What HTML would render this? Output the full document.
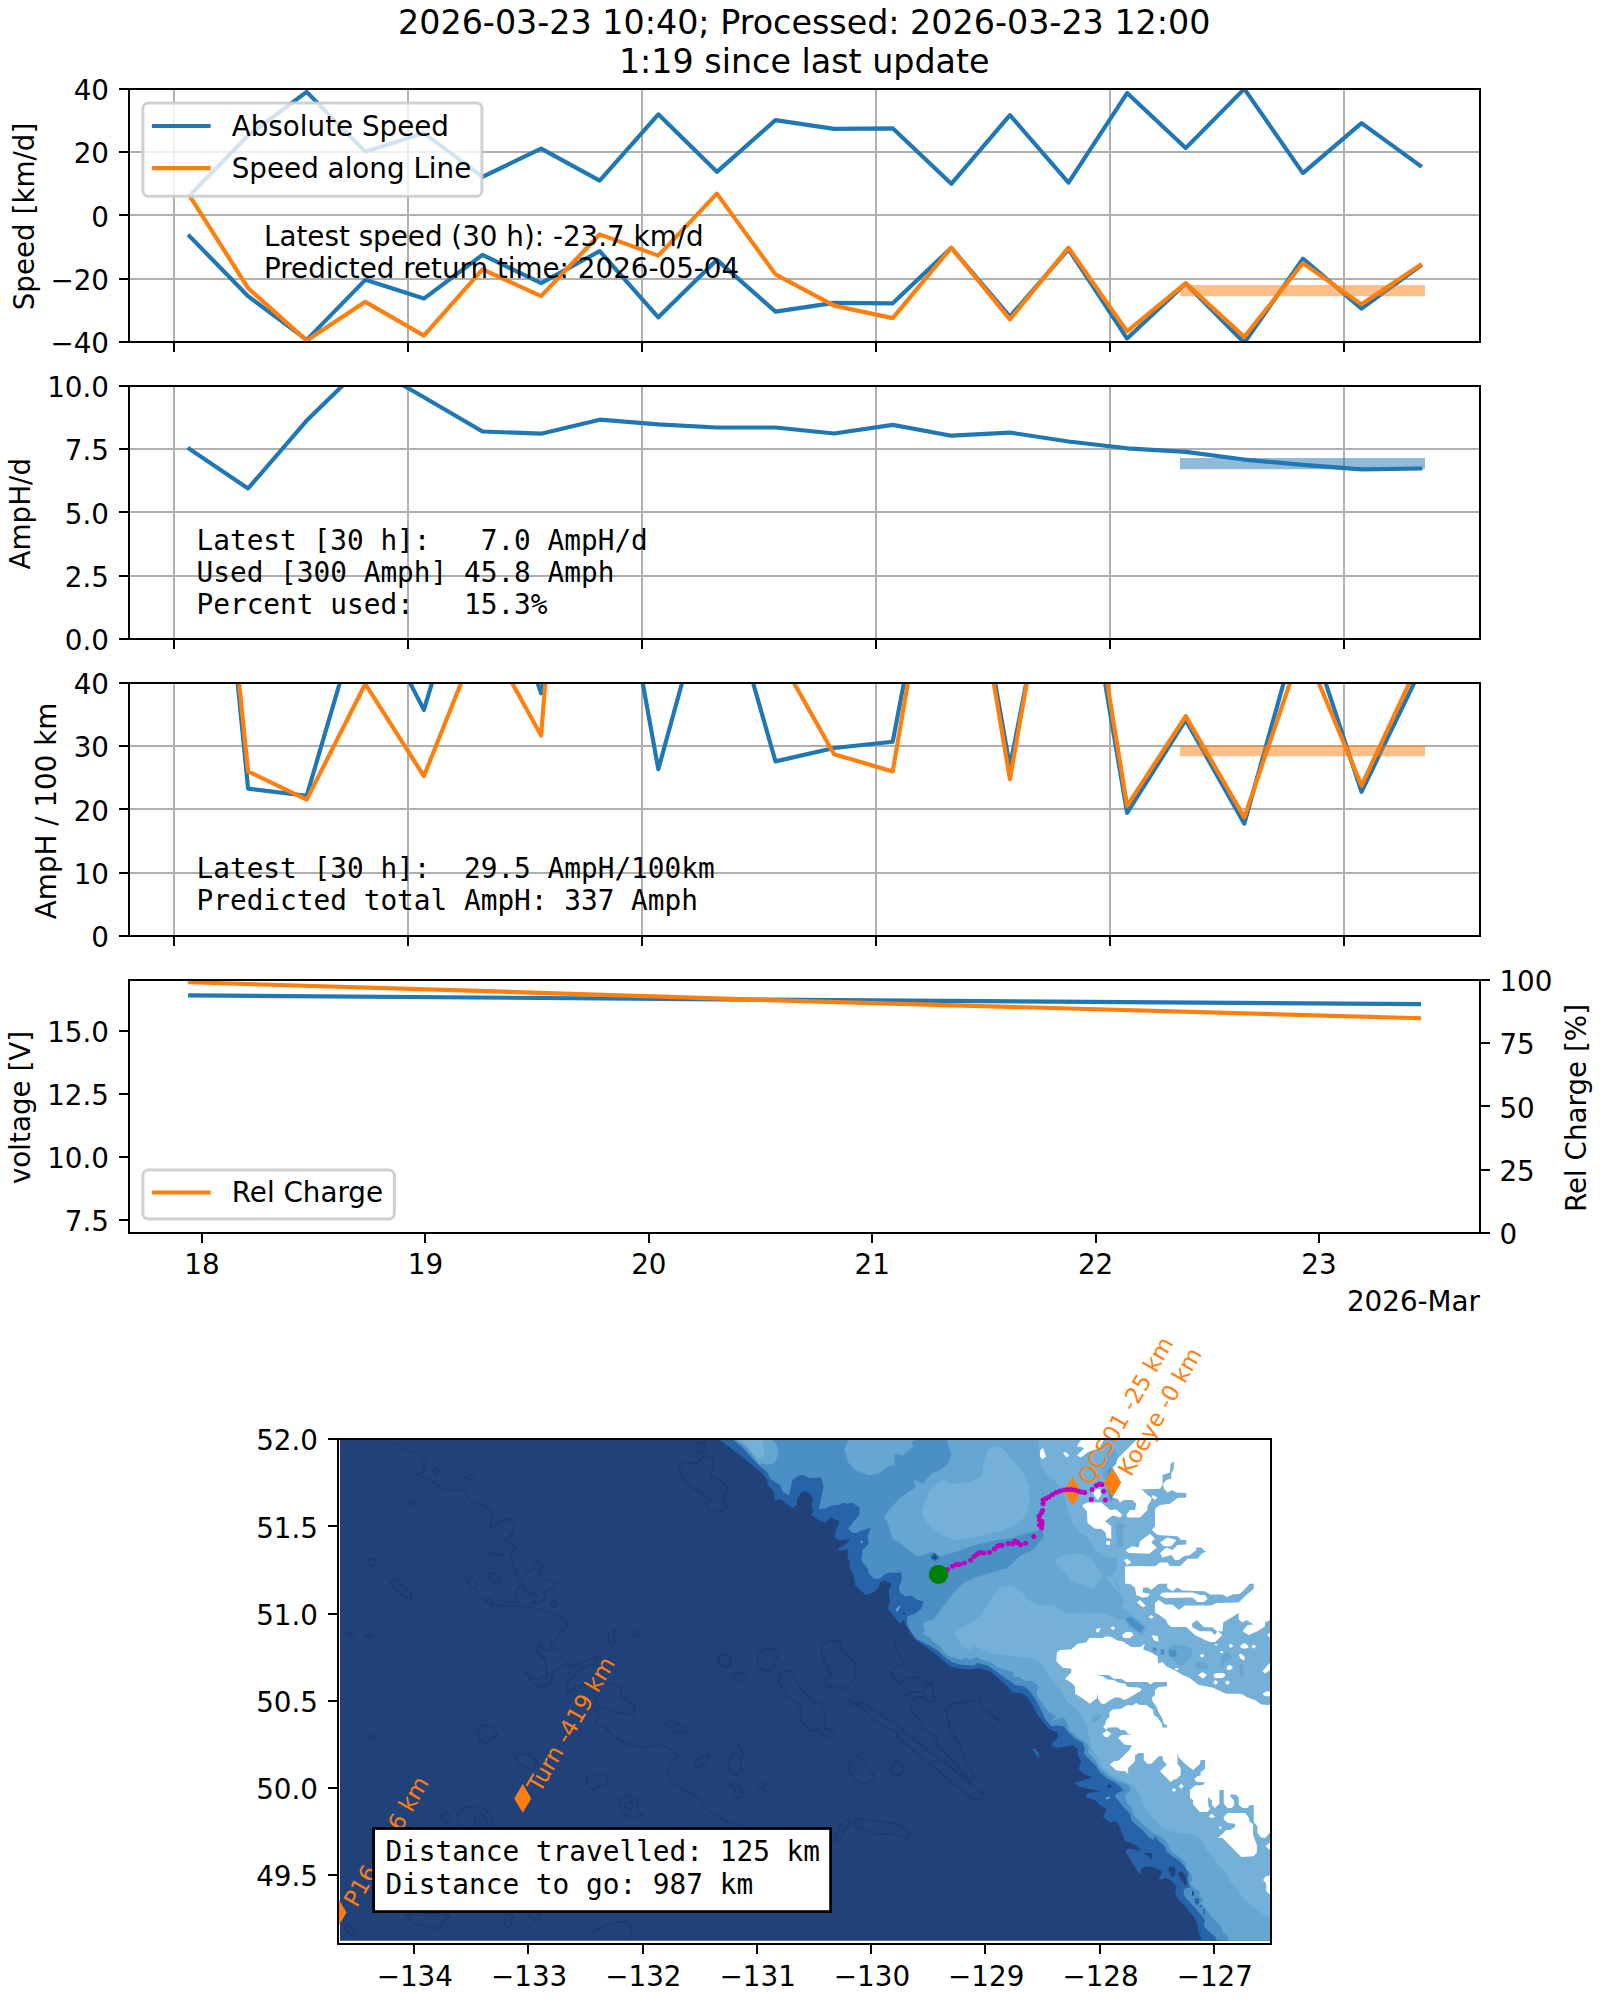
<!DOCTYPE html>
<html><head><meta charset="utf-8"><title>Glider status</title>
<style>html,body{margin:0;padding:0;background:#fff}svg{display:block}</style></head>
<body>
<svg width="1600" height="2000" viewBox="0 0 1600 2000" font-family='"DejaVu Sans", "Liberation Sans", sans-serif'>
<rect width="1600" height="2000" fill="#fff"/>
<defs>
<clipPath id="c0"><rect x="129" y="89" width="1351" height="253"/></clipPath>
<clipPath id="c1"><rect x="129" y="386" width="1351" height="253"/></clipPath>
<clipPath id="c2"><rect x="129" y="683" width="1351" height="253"/></clipPath>
<clipPath id="c3"><rect x="129" y="980" width="1351" height="253"/></clipPath>
</defs>
<text xml:space="preserve" style="white-space:pre" x="804.25" y="33.5" font-size="33.33" text-anchor="middle" fill="#000">2026-03-23 10:40; Processed: 2026-03-23 12:00</text>
<text xml:space="preserve" style="white-space:pre" x="804.25" y="72.5" font-size="33.33" text-anchor="middle" fill="#000">1:19 since last update</text>
<line x1="174" y1="89" x2="174" y2="342" stroke="#b0b0b0" stroke-width="2" shape-rendering="crispEdges"/>
<line x1="408" y1="89" x2="408" y2="342" stroke="#b0b0b0" stroke-width="2" shape-rendering="crispEdges"/>
<line x1="642" y1="89" x2="642" y2="342" stroke="#b0b0b0" stroke-width="2" shape-rendering="crispEdges"/>
<line x1="876" y1="89" x2="876" y2="342" stroke="#b0b0b0" stroke-width="2" shape-rendering="crispEdges"/>
<line x1="1110" y1="89" x2="1110" y2="342" stroke="#b0b0b0" stroke-width="2" shape-rendering="crispEdges"/>
<line x1="1344" y1="89" x2="1344" y2="342" stroke="#b0b0b0" stroke-width="2" shape-rendering="crispEdges"/>
<line x1="129" y1="89" x2="1480" y2="89" stroke="#b0b0b0" stroke-width="2" shape-rendering="crispEdges"/>
<line x1="129" y1="152" x2="1480" y2="152" stroke="#b0b0b0" stroke-width="2" shape-rendering="crispEdges"/>
<line x1="129" y1="215" x2="1480" y2="215" stroke="#b0b0b0" stroke-width="2" shape-rendering="crispEdges"/>
<line x1="129" y1="279" x2="1480" y2="279" stroke="#b0b0b0" stroke-width="2" shape-rendering="crispEdges"/>
<line x1="129" y1="342" x2="1480" y2="342" stroke="#b0b0b0" stroke-width="2" shape-rendering="crispEdges"/>
<g clip-path="url(#c0)">
<polyline points="189.5,195.6 248.1,135.5 306.7,91.85 365.3,151.85 423.9,133.1 482.5,176.85 541.1,148.6 599.7,180.6 658.3,114.35 716.9,171.85 775.5,120.1 834.1,128.85 892.7,128.35 951.3,183.85 1009.9,115.1 1068.5,182.6 1127.1,93.1 1185.7,148.1 1244.3,88.9 1302.9,173.1 1361.5,123.1 1420.1,165.6" fill="none" stroke="#1f77b4" stroke-width="4.17" stroke-linejoin="round" stroke-linecap="square"/>
<polyline points="189.5,236.1 248.1,296.2 306.7,339.85 365.3,279.85 423.9,298.6 482.5,254.85 541.1,283.1 599.7,251.1 658.3,317.35 716.9,259.85 775.5,311.6 834.1,302.85 892.7,303.35 951.3,247.85 1009.9,316.6 1068.5,249.1 1127.1,338.6 1185.7,283.6 1244.3,342.8 1302.9,258.6 1361.5,308.6 1420.1,266.1" fill="none" stroke="#1f77b4" stroke-width="4.17" stroke-linejoin="round" stroke-linecap="square"/>
<polyline points="189.5,195.6 248.1,288.1 306.7,340.6 365.3,301.85 423.9,335.6 482.5,269.35 541.1,296.1 599.7,234.35 658.3,255.6 716.9,193.6 775.5,274.35 834.1,305.6 892.7,318.1 951.3,247.6 1009.9,319.35 1068.5,247.6 1127.1,331.35 1185.7,283.1 1244.3,336.85 1302.9,263.1 1361.5,304.35 1420.1,265.1" fill="none" stroke="#ff7f0e" stroke-width="4.17" stroke-linejoin="round" stroke-linecap="square"/>
<line x1="1180" y1="290.6" x2="1425" y2="290.6" stroke="#ff7f0e" stroke-width="11.1" stroke-opacity="0.5"/>
</g>
<line x1="174" y1="342" x2="174" y2="352" stroke="#000" stroke-width="2" shape-rendering="crispEdges"/>
<line x1="408" y1="342" x2="408" y2="352" stroke="#000" stroke-width="2" shape-rendering="crispEdges"/>
<line x1="642" y1="342" x2="642" y2="352" stroke="#000" stroke-width="2" shape-rendering="crispEdges"/>
<line x1="876" y1="342" x2="876" y2="352" stroke="#000" stroke-width="2" shape-rendering="crispEdges"/>
<line x1="1110" y1="342" x2="1110" y2="352" stroke="#000" stroke-width="2" shape-rendering="crispEdges"/>
<line x1="1344" y1="342" x2="1344" y2="352" stroke="#000" stroke-width="2" shape-rendering="crispEdges"/>
<line x1="119" y1="89" x2="129" y2="89" stroke="#000" stroke-width="2" shape-rendering="crispEdges"/>
<text xml:space="preserve" style="white-space:pre" x="109" y="100" font-size="27.78" text-anchor="end" fill="#000">40</text>
<line x1="119" y1="152" x2="129" y2="152" stroke="#000" stroke-width="2" shape-rendering="crispEdges"/>
<text xml:space="preserve" style="white-space:pre" x="109" y="163.25" font-size="27.78" text-anchor="end" fill="#000">20</text>
<line x1="119" y1="215" x2="129" y2="215" stroke="#000" stroke-width="2" shape-rendering="crispEdges"/>
<text xml:space="preserve" style="white-space:pre" x="109" y="226.5" font-size="27.78" text-anchor="end" fill="#000">0</text>
<line x1="119" y1="279" x2="129" y2="279" stroke="#000" stroke-width="2" shape-rendering="crispEdges"/>
<text xml:space="preserve" style="white-space:pre" x="109" y="289.75" font-size="27.78" text-anchor="end" fill="#000">−20</text>
<line x1="119" y1="342" x2="129" y2="342" stroke="#000" stroke-width="2" shape-rendering="crispEdges"/>
<text xml:space="preserve" style="white-space:pre" x="109" y="353" font-size="27.78" text-anchor="end" fill="#000">−40</text>
<rect x="129" y="89" width="1351" height="253" fill="none" stroke="#000" stroke-width="2" shape-rendering="crispEdges"/>
<text xml:space="preserve" style="white-space:pre" x="264" y="246" font-size="27.78" text-anchor="start" fill="#000">Latest speed (30 h): -23.7 km/d</text>
<text xml:space="preserve" style="white-space:pre" x="264" y="277.5" font-size="27.78" text-anchor="start" fill="#000">Predicted return time: 2026-05-04</text>
<text xml:space="preserve" style="white-space:pre" x="33.8" y="216.5" font-size="27.78" text-anchor="middle" fill="#000" transform="rotate(-90 33.8 216.5)">Speed [km/d]</text>
<rect x="142.9" y="102.9" width="339" height="93.3" rx="5.5" ry="5.5" fill="#fff" fill-opacity="0.8" stroke="#cccccc" stroke-opacity="0.9" stroke-width="3"/>
<line x1="154" y1="126" x2="208.6" y2="126" stroke="#1f77b4" stroke-width="4.17" stroke-linecap="square"/>
<text xml:space="preserve" style="white-space:pre" x="231.76" y="135.7" font-size="27.78" text-anchor="start" fill="#000">Absolute Speed</text>
<line x1="154" y1="168.2" x2="208.6" y2="168.2" stroke="#ff7f0e" stroke-width="4.17" stroke-linecap="square"/>
<text xml:space="preserve" style="white-space:pre" x="231.76" y="177.9" font-size="27.78" text-anchor="start" fill="#000">Speed along Line</text>
<line x1="174" y1="386" x2="174" y2="639" stroke="#b0b0b0" stroke-width="2" shape-rendering="crispEdges"/>
<line x1="408" y1="386" x2="408" y2="639" stroke="#b0b0b0" stroke-width="2" shape-rendering="crispEdges"/>
<line x1="642" y1="386" x2="642" y2="639" stroke="#b0b0b0" stroke-width="2" shape-rendering="crispEdges"/>
<line x1="876" y1="386" x2="876" y2="639" stroke="#b0b0b0" stroke-width="2" shape-rendering="crispEdges"/>
<line x1="1110" y1="386" x2="1110" y2="639" stroke="#b0b0b0" stroke-width="2" shape-rendering="crispEdges"/>
<line x1="1344" y1="386" x2="1344" y2="639" stroke="#b0b0b0" stroke-width="2" shape-rendering="crispEdges"/>
<line x1="129" y1="386" x2="1480" y2="386" stroke="#b0b0b0" stroke-width="2" shape-rendering="crispEdges"/>
<line x1="129" y1="449" x2="1480" y2="449" stroke="#b0b0b0" stroke-width="2" shape-rendering="crispEdges"/>
<line x1="129" y1="512" x2="1480" y2="512" stroke="#b0b0b0" stroke-width="2" shape-rendering="crispEdges"/>
<line x1="129" y1="576" x2="1480" y2="576" stroke="#b0b0b0" stroke-width="2" shape-rendering="crispEdges"/>
<line x1="129" y1="639" x2="1480" y2="639" stroke="#b0b0b0" stroke-width="2" shape-rendering="crispEdges"/>
<g clip-path="url(#c1)">
<polyline points="189.5,449 248.1,488.4 306.7,420.55 365.3,363.5 423.9,397.3 482.5,431.5 541.1,433.7 599.7,419.7 658.3,424.4 716.9,427.5 775.5,427.5 834.1,433.45 892.7,424.9 951.3,435.7 1009.9,432.55 1068.5,441.55 1127.1,448.3 1185.7,451.9 1244.3,459.55 1302.9,464.95 1361.5,469.45 1420.1,468.55" fill="none" stroke="#1f77b4" stroke-width="4.17" stroke-linejoin="round" stroke-linecap="square"/>
<line x1="1180" y1="463.6" x2="1425" y2="463.6" stroke="#1f77b4" stroke-width="11.1" stroke-opacity="0.5"/>
</g>
<line x1="174" y1="639" x2="174" y2="649" stroke="#000" stroke-width="2" shape-rendering="crispEdges"/>
<line x1="408" y1="639" x2="408" y2="649" stroke="#000" stroke-width="2" shape-rendering="crispEdges"/>
<line x1="642" y1="639" x2="642" y2="649" stroke="#000" stroke-width="2" shape-rendering="crispEdges"/>
<line x1="876" y1="639" x2="876" y2="649" stroke="#000" stroke-width="2" shape-rendering="crispEdges"/>
<line x1="1110" y1="639" x2="1110" y2="649" stroke="#000" stroke-width="2" shape-rendering="crispEdges"/>
<line x1="1344" y1="639" x2="1344" y2="649" stroke="#000" stroke-width="2" shape-rendering="crispEdges"/>
<line x1="119" y1="386" x2="129" y2="386" stroke="#000" stroke-width="2" shape-rendering="crispEdges"/>
<text xml:space="preserve" style="white-space:pre" x="109" y="397" font-size="27.78" text-anchor="end" fill="#000">10.0</text>
<line x1="119" y1="449" x2="129" y2="449" stroke="#000" stroke-width="2" shape-rendering="crispEdges"/>
<text xml:space="preserve" style="white-space:pre" x="109" y="460.25" font-size="27.78" text-anchor="end" fill="#000">7.5</text>
<line x1="119" y1="512" x2="129" y2="512" stroke="#000" stroke-width="2" shape-rendering="crispEdges"/>
<text xml:space="preserve" style="white-space:pre" x="109" y="523.5" font-size="27.78" text-anchor="end" fill="#000">5.0</text>
<line x1="119" y1="576" x2="129" y2="576" stroke="#000" stroke-width="2" shape-rendering="crispEdges"/>
<text xml:space="preserve" style="white-space:pre" x="109" y="586.75" font-size="27.78" text-anchor="end" fill="#000">2.5</text>
<line x1="119" y1="639" x2="129" y2="639" stroke="#000" stroke-width="2" shape-rendering="crispEdges"/>
<text xml:space="preserve" style="white-space:pre" x="109" y="650" font-size="27.78" text-anchor="end" fill="#000">0.0</text>
<rect x="129" y="386" width="1351" height="253" fill="none" stroke="#000" stroke-width="2" shape-rendering="crispEdges"/>
<g font-family='"DejaVu Sans Mono", "Liberation Mono", monospace' xml:space="preserve">
<text xml:space="preserve" style="white-space:pre" x="196.5" y="549.8" font-size="27.78" text-anchor="start" fill="#000">Latest [30 h]:   7.0 AmpH/d</text>
<text xml:space="preserve" style="white-space:pre" x="196.5" y="581.8" font-size="27.78" text-anchor="start" fill="#000">Used [300 Amph] 45.8 Amph</text>
<text xml:space="preserve" style="white-space:pre" x="196.5" y="613.8" font-size="27.78" text-anchor="start" fill="#000">Percent used:   15.3%</text>
</g>
<text xml:space="preserve" style="white-space:pre" x="30.5" y="513.7" font-size="27.78" text-anchor="middle" fill="#000" transform="rotate(-90 30.5 513.7)">AmpH/d</text>
<line x1="174" y1="683" x2="174" y2="936" stroke="#b0b0b0" stroke-width="2" shape-rendering="crispEdges"/>
<line x1="408" y1="683" x2="408" y2="936" stroke="#b0b0b0" stroke-width="2" shape-rendering="crispEdges"/>
<line x1="642" y1="683" x2="642" y2="936" stroke="#b0b0b0" stroke-width="2" shape-rendering="crispEdges"/>
<line x1="876" y1="683" x2="876" y2="936" stroke="#b0b0b0" stroke-width="2" shape-rendering="crispEdges"/>
<line x1="1110" y1="683" x2="1110" y2="936" stroke="#b0b0b0" stroke-width="2" shape-rendering="crispEdges"/>
<line x1="1344" y1="683" x2="1344" y2="936" stroke="#b0b0b0" stroke-width="2" shape-rendering="crispEdges"/>
<line x1="129" y1="683" x2="1480" y2="683" stroke="#b0b0b0" stroke-width="2" shape-rendering="crispEdges"/>
<line x1="129" y1="746" x2="1480" y2="746" stroke="#b0b0b0" stroke-width="2" shape-rendering="crispEdges"/>
<line x1="129" y1="809" x2="1480" y2="809" stroke="#b0b0b0" stroke-width="2" shape-rendering="crispEdges"/>
<line x1="129" y1="873" x2="1480" y2="873" stroke="#b0b0b0" stroke-width="2" shape-rendering="crispEdges"/>
<line x1="129" y1="936" x2="1480" y2="936" stroke="#b0b0b0" stroke-width="2" shape-rendering="crispEdges"/>
<g clip-path="url(#c2)">
<polyline points="189.5,194.92 248.1,788.6 306.7,795.8 365.3,595.89 423.9,709.9 482.5,515.6 541.1,693.3 599.7,444.55 658.3,769.25 716.9,556.16 775.5,761.4 834.1,748 892.7,741.75 951.3,434.1 1009.9,766.75 1068.5,466.81 1127.1,813 1185.7,719.9 1244.3,823.6 1302.9,614.1 1361.5,791.75 1420.1,670.8" fill="none" stroke="#1f77b4" stroke-width="4.17" stroke-linejoin="round" stroke-linecap="square"/>
<polyline points="189.5,194.92 248.1,771.4 306.7,799.6 365.3,684 423.9,776.1 482.5,629.41 541.1,735.5 599.7,0.05 658.3,509.45 716.9,185.34 775.5,650.18 834.1,754.25 892.7,771.4 951.3,430.15 1009.9,779.25 1068.5,444.67 1127.1,805.8 1185.7,716.1 1244.3,817.4 1302.9,644.71 1361.5,785.5 1420.1,659.8" fill="none" stroke="#ff7f0e" stroke-width="4.17" stroke-linejoin="round" stroke-linecap="square"/>
<line x1="1180" y1="750.8" x2="1425" y2="750.8" stroke="#ff7f0e" stroke-width="11.1" stroke-opacity="0.5"/>
</g>
<line x1="174" y1="936" x2="174" y2="946" stroke="#000" stroke-width="2" shape-rendering="crispEdges"/>
<line x1="408" y1="936" x2="408" y2="946" stroke="#000" stroke-width="2" shape-rendering="crispEdges"/>
<line x1="642" y1="936" x2="642" y2="946" stroke="#000" stroke-width="2" shape-rendering="crispEdges"/>
<line x1="876" y1="936" x2="876" y2="946" stroke="#000" stroke-width="2" shape-rendering="crispEdges"/>
<line x1="1110" y1="936" x2="1110" y2="946" stroke="#000" stroke-width="2" shape-rendering="crispEdges"/>
<line x1="1344" y1="936" x2="1344" y2="946" stroke="#000" stroke-width="2" shape-rendering="crispEdges"/>
<line x1="119" y1="683" x2="129" y2="683" stroke="#000" stroke-width="2" shape-rendering="crispEdges"/>
<text xml:space="preserve" style="white-space:pre" x="109" y="694" font-size="27.78" text-anchor="end" fill="#000">40</text>
<line x1="119" y1="746" x2="129" y2="746" stroke="#000" stroke-width="2" shape-rendering="crispEdges"/>
<text xml:space="preserve" style="white-space:pre" x="109" y="757.25" font-size="27.78" text-anchor="end" fill="#000">30</text>
<line x1="119" y1="809" x2="129" y2="809" stroke="#000" stroke-width="2" shape-rendering="crispEdges"/>
<text xml:space="preserve" style="white-space:pre" x="109" y="820.5" font-size="27.78" text-anchor="end" fill="#000">20</text>
<line x1="119" y1="873" x2="129" y2="873" stroke="#000" stroke-width="2" shape-rendering="crispEdges"/>
<text xml:space="preserve" style="white-space:pre" x="109" y="883.75" font-size="27.78" text-anchor="end" fill="#000">10</text>
<line x1="119" y1="936" x2="129" y2="936" stroke="#000" stroke-width="2" shape-rendering="crispEdges"/>
<text xml:space="preserve" style="white-space:pre" x="109" y="947" font-size="27.78" text-anchor="end" fill="#000">0</text>
<rect x="129" y="683" width="1351" height="253" fill="none" stroke="#000" stroke-width="2" shape-rendering="crispEdges"/>
<g font-family='"DejaVu Sans Mono", "Liberation Mono", monospace' xml:space="preserve">
<text xml:space="preserve" style="white-space:pre" x="196.5" y="877.8" font-size="27.78" text-anchor="start" fill="#000">Latest [30 h]:  29.5 AmpH/100km</text>
<text xml:space="preserve" style="white-space:pre" x="196.5" y="909.8" font-size="27.78" text-anchor="start" fill="#000">Predicted total AmpH: 337 Amph</text>
</g>
<text xml:space="preserve" style="white-space:pre" x="55.7" y="810.9" font-size="27.78" text-anchor="middle" fill="#000" transform="rotate(-90 55.7 810.9)">AmpH / 100 km</text>
<g clip-path="url(#c3)">
<polyline points="190.2,995.4 754,999.6 1419,1004.1" fill="none" stroke="#1f77b4" stroke-width="4.17" stroke-linejoin="round" stroke-linecap="square"/>
<polyline points="190.2,982.3 470,990.7 820,1001.6 1419,1018.2" fill="none" stroke="#ff7f0e" stroke-width="4.17" stroke-linejoin="round" stroke-linecap="square"/>
</g>
<line x1="202" y1="1233" x2="202" y2="1243" stroke="#000" stroke-width="2" shape-rendering="crispEdges"/>
<text xml:space="preserve" style="white-space:pre" x="202" y="1274.14" font-size="27.78" text-anchor="middle" fill="#000">18</text>
<line x1="425" y1="1233" x2="425" y2="1243" stroke="#000" stroke-width="2" shape-rendering="crispEdges"/>
<text xml:space="preserve" style="white-space:pre" x="425.4" y="1274.14" font-size="27.78" text-anchor="middle" fill="#000">19</text>
<line x1="649" y1="1233" x2="649" y2="1243" stroke="#000" stroke-width="2" shape-rendering="crispEdges"/>
<text xml:space="preserve" style="white-space:pre" x="648.8" y="1274.14" font-size="27.78" text-anchor="middle" fill="#000">20</text>
<line x1="872" y1="1233" x2="872" y2="1243" stroke="#000" stroke-width="2" shape-rendering="crispEdges"/>
<text xml:space="preserve" style="white-space:pre" x="872.2" y="1274.14" font-size="27.78" text-anchor="middle" fill="#000">21</text>
<line x1="1096" y1="1233" x2="1096" y2="1243" stroke="#000" stroke-width="2" shape-rendering="crispEdges"/>
<text xml:space="preserve" style="white-space:pre" x="1095.6" y="1274.14" font-size="27.78" text-anchor="middle" fill="#000">22</text>
<line x1="1319" y1="1233" x2="1319" y2="1243" stroke="#000" stroke-width="2" shape-rendering="crispEdges"/>
<text xml:space="preserve" style="white-space:pre" x="1319" y="1274.14" font-size="27.78" text-anchor="middle" fill="#000">23</text>
<line x1="119" y1="1031" x2="129" y2="1031" stroke="#000" stroke-width="2" shape-rendering="crispEdges"/>
<text xml:space="preserve" style="white-space:pre" x="109" y="1042.2" font-size="27.78" text-anchor="end" fill="#000">15.0</text>
<line x1="119" y1="1094" x2="129" y2="1094" stroke="#000" stroke-width="2" shape-rendering="crispEdges"/>
<text xml:space="preserve" style="white-space:pre" x="109" y="1105.2" font-size="27.78" text-anchor="end" fill="#000">12.5</text>
<line x1="119" y1="1157" x2="129" y2="1157" stroke="#000" stroke-width="2" shape-rendering="crispEdges"/>
<text xml:space="preserve" style="white-space:pre" x="109" y="1168.2" font-size="27.78" text-anchor="end" fill="#000">10.0</text>
<line x1="119" y1="1220" x2="129" y2="1220" stroke="#000" stroke-width="2" shape-rendering="crispEdges"/>
<text xml:space="preserve" style="white-space:pre" x="109" y="1231.2" font-size="27.78" text-anchor="end" fill="#000">7.5</text>
<line x1="1480" y1="980" x2="1490" y2="980" stroke="#000" stroke-width="2" shape-rendering="crispEdges"/>
<text xml:space="preserve" style="white-space:pre" x="1499.44" y="991" font-size="27.78" text-anchor="start" fill="#000">100</text>
<line x1="1480" y1="1043" x2="1490" y2="1043" stroke="#000" stroke-width="2" shape-rendering="crispEdges"/>
<text xml:space="preserve" style="white-space:pre" x="1499.44" y="1054.25" font-size="27.78" text-anchor="start" fill="#000">75</text>
<line x1="1480" y1="1106" x2="1490" y2="1106" stroke="#000" stroke-width="2" shape-rendering="crispEdges"/>
<text xml:space="preserve" style="white-space:pre" x="1499.44" y="1117.5" font-size="27.78" text-anchor="start" fill="#000">50</text>
<line x1="1480" y1="1170" x2="1490" y2="1170" stroke="#000" stroke-width="2" shape-rendering="crispEdges"/>
<text xml:space="preserve" style="white-space:pre" x="1499.44" y="1180.75" font-size="27.78" text-anchor="start" fill="#000">25</text>
<line x1="1480" y1="1233" x2="1490" y2="1233" stroke="#000" stroke-width="2" shape-rendering="crispEdges"/>
<text xml:space="preserve" style="white-space:pre" x="1499.44" y="1244" font-size="27.78" text-anchor="start" fill="#000">0</text>
<rect x="129" y="980" width="1351" height="253" fill="none" stroke="#000" stroke-width="2" shape-rendering="crispEdges"/>
<text xml:space="preserve" style="white-space:pre" x="1480" y="1311" font-size="27.78" text-anchor="end" fill="#000">2026-Mar</text>
<text xml:space="preserve" style="white-space:pre" x="30" y="1107.5" font-size="27.78" text-anchor="middle" fill="#000" transform="rotate(-90 30 1107.5)">voltage [V]</text>
<text xml:space="preserve" style="white-space:pre" x="1586" y="1108" font-size="27.78" text-anchor="middle" fill="#000" transform="rotate(-90 1586 1108)">Rel Charge [%]</text>
<rect x="142.9" y="1169.9" width="251.5" height="49.2" rx="5.5" ry="5.5" fill="#fff" fill-opacity="0.8" stroke="#cccccc" stroke-opacity="0.9" stroke-width="3"/>
<line x1="154" y1="1192.5" x2="208.6" y2="1192.5" stroke="#ff7f0e" stroke-width="4.17" stroke-linecap="square"/>
<text xml:space="preserve" style="white-space:pre" x="231.76" y="1202.2" font-size="27.78" text-anchor="start" fill="#000">Rel Charge</text>
<clipPath id="cm"><rect x="340" y="1440" width="931" height="500.7"/></clipPath>
<g clip-path="url(#cm)">
<rect x="330" y="1430" width="950" height="520" fill="#214279"/>
<g fill="none" stroke="#1a3869" stroke-width="1.1" stroke-linejoin="round">
<polyline points="395,1442.5 405,1450 417.5,1452.5 426.25,1462.5 422.5,1472.5 416.25,1475 430,1480 445,1490 462.5,1490 470,1501.25 482.5,1505 492.5,1512.5 490,1527.5 500,1522.5 510,1518.75 515,1526.25 511.25,1535 503.75,1540 516.25,1546.25 510,1557.5 516.25,1572.5 518.75,1582.5 527.5,1572.5 533.75,1568.75 537.5,1561.25 542.5,1565 538.75,1575 556.25,1582.5 550,1590 543.75,1592.5 545,1600 533.75,1603.75 537.5,1595 526.25,1592.5 522.5,1583.75 516.25,1590 515,1602.5 505,1602.5 495,1610 490,1603.75 502.5,1606.25 527.5,1606.25 545,1611.25 560,1615 568.75,1623.75 555,1640 550,1645 555,1648.75 545,1651.25 540,1643.75 536.25,1651.25 545,1660 547.5,1675 537.5,1680 525,1672.5 532.5,1682.5 540,1687.5 551.25,1683.75 552.5,1672.5 567.5,1662.5 572.5,1667.5 585,1661.25 598.75,1656.25 595,1663.75 580,1670 567.5,1682.5 567.5,1692.5 580,1685 605,1682.5 622.5,1687.5 620,1696.25 635,1705 632.5,1715 617.5,1712.5 600,1707.5 595,1700"/>
<polyline points="895.94,1640 895,1647.5 900.62,1656.88 903.44,1664.38 896.88,1666.25 891.25,1670.94 893.12,1677.5 900.62,1684.06 904.38,1677.5 915.62,1676.56 925,1682.19 932.5,1684.06"/>
<polyline points="1000,1722.5 992.5,1715 981.25,1707.5 979.38,1700 966.25,1701.88 951.25,1704.69 945.62,1709.38 947.5,1718.75 951.25,1730 958.75,1743.12 962.5,1754.38 970,1769.38 973.75,1776.88 970,1780.62 962.5,1773.12 955,1763.75 945.62,1752.5 938.12,1745 934.38,1735.62 923.12,1728.12 921.25,1720.62 913.75,1713.12 910,1705.62 913.75,1698.12 923.12,1696.25 926.88,1701.88 936.25,1700.94 933.44,1694.38 932.5,1684.06 926.88,1685 923.12,1692.5 911.88,1691.56 903.44,1696.25"/>
<polyline points="492.5,1827.5 491.25,1820 487.5,1811.25 478.75,1806.25 467.5,1807.5 458.75,1812.5 457.5,1820 460,1827.5"/>
<polyline points="473.75,1827.5 475,1817.5 481.25,1813.75 486.25,1818.75 487.5,1827.5"/>
<polyline points="592.5,1705 600,1715 595,1722.5 605,1727.5 615,1737.5 625,1742.5 632.5,1746.25 647.5,1747.5 662.5,1745 675,1751.25 678.75,1756.25 670,1762.5 667.5,1775 675,1785 690,1792.5 700,1800 707.5,1810 720,1817.5 730,1822.5 740,1825"/>
<polyline points="590,1935 600,1927.5 615,1922.5 627.5,1921.25 631.25,1927.5 630,1940"/>
<polygon points="432.5,1471.25 437.5,1467.5 440,1470 436.25,1475"/>
<polygon points="465,1477.5 470,1475 473.75,1476.25 470,1480"/>
<polygon points="410,1503.75 412.5,1498.75 417,1504.5 411.25,1506.25"/>
<polygon points="367.5,1560 372.5,1558 377,1562.5 373.75,1566.25 368,1563.75"/>
<polygon points="390,1582.5 396.25,1579.25 405,1587.5 410.5,1592.5 411.25,1598.75 405,1597.5 398.75,1592.5 393.75,1587.5"/>
<polygon points="467,1581.25 472,1578 477,1583.75 475,1588.75 469.5,1587"/>
<polygon points="487.5,1575 492.5,1572.5 498.75,1576.25 500,1581.25 493.75,1582 488.75,1578.75"/>
<polygon points="486.25,1554.25 495,1553 503.75,1554.5 495,1556.25"/>
<polygon points="484.5,1600 488.75,1598 493.75,1602.5 490,1605"/>
<polygon points="550,1602.5 556.25,1601.25 557.5,1605 552.5,1607.5"/>
<polygon points="347,1633.75 352.5,1633 354.5,1636.25 350,1637.5"/>
<polygon points="365,1634.5 371.25,1633.75 373,1636.25 367.5,1637"/>
<polygon points="608.75,1633.75 615,1630 613.75,1637.5 616.25,1642.5 610,1643.75 608,1638.75"/>
<polygon points="630,1631.25 635,1630 638,1635.5 633.75,1636.25"/>
<polygon points="718.75,1656.25 725,1653.75 730,1657.5 730,1666.25 723.75,1667.5 718.75,1662.5"/>
<polygon points="678.75,1467.5 685,1462.5 697.5,1463.75 705,1455 712.5,1457.5 713.75,1465 710,1476.25 720,1480 727.5,1487.5 722.5,1502.5 727.5,1507.5 720,1511.25 710,1510 705,1502.5 712.5,1500 700,1492.5 690,1486.25 682.5,1478.75"/>
<polygon points="697.5,1442.5 705,1443.75 703.75,1452.5 697.5,1451.25"/>
<polygon points="718.75,1655.94 725.31,1654.06 730.94,1658.75 730,1665.31 724.38,1667.19 718.75,1662.5"/>
<polygon points="758.12,1654.06 765.62,1648.44 775,1649.38 779.69,1655 774.06,1660.62 775,1668.12 769.38,1670.94 760,1668.12 757.19,1660.62"/>
<polygon points="731.88,1675.62 738.44,1671.88 745,1674.69 746.5,1679.38 740.31,1682.19 735.62,1678.44"/>
<polygon points="777.81,1676.56 782.5,1670.94 790,1670.94 795.62,1679.38 801.25,1688.75 810.62,1700 821.88,1704.69 825.62,1715 824.69,1728.12 831.25,1730 834.06,1735.62 829.38,1738.44 821.88,1733.75 816.25,1730 810.62,1730.94 802.19,1722.5 799.38,1713.12 801.25,1708.44 795.62,1701.88 788.12,1696.25 782.5,1688.75 778.75,1682.19"/>
<polygon points="822.81,1645.62 829.38,1640 838.75,1640.94 842.5,1649.38 850,1656.88 855.62,1664.38 854.69,1677.5 850,1685 842.5,1688.75 835,1685.94 827.5,1686.88 822.81,1682.19 831.25,1675.62 827.5,1668.12 823.75,1658.75 820.94,1650.31"/>
<polygon points="847.19,1700 850.94,1699.06 855.62,1703.75 863.12,1708.44 872.5,1718.75 883.75,1726.25 895,1731.88 898.75,1737.5 911.88,1748.75 925,1760 936.25,1769.38 947.5,1778.75 956.88,1786.25 966.25,1793.75 973.75,1799.38 981.25,1799.38 983.12,1793.75 975.62,1788.12 962.5,1776.88 951.25,1767.5 940,1760 921.25,1745 906.25,1733.75 895,1722.5 880,1715 868.75,1705.62 859.38,1701.88 850,1704.69"/>
<polygon points="853.75,1756.25 859.38,1755.31 865,1763.75 872.5,1773.12 874.38,1779.69 868.75,1780.62 863.12,1784.38 853.75,1778.75 848.12,1769.38 850,1761.88"/>
<polygon points="891.25,1767.5 895,1760.94 902.5,1762.81 904.38,1769.38 898.75,1775.94 893.12,1774.06"/>
<polygon points="728.12,1761.88 733.75,1752.5 739.38,1744.06 741.25,1750.62 744.06,1753.44 740.31,1760 741.25,1769.38 736.56,1775 730.94,1771.25"/>
<polygon points="729.06,1784.38 737.5,1783.44 741.25,1788.12 744.06,1795.62 737.5,1798.44 733.75,1794.69 735.62,1789.06"/>
<polygon points="758.12,1783.44 762.81,1779.69 765.62,1785.31 762.81,1789.06 758.5,1788.12"/>
<polygon points="853.75,1824.69 859.38,1818.12 868.75,1820 880,1820.94 895,1823.75 904.38,1828.44 909.06,1833.12 907.19,1838.75 898.75,1835 887.5,1834.06 876.25,1835 866.88,1831.25 857.5,1828.44"/>
<polygon points="835,1841.56 839.69,1825.62 848.12,1818.12 850,1822.81 844.38,1831.25 838.75,1841.56"/>
<polygon points="477.5,1728.75 485,1725 495,1728.75 497.5,1735 490,1738.75 487.5,1743.75 480,1740"/>
<polygon points="515,1757.5 522.5,1753.75 532.5,1756.25 537.5,1762.5 532.5,1770 525,1766.25 518.75,1763.75"/>
<polygon points="586.25,1777.5 595,1773.75 606.25,1775 608.75,1782.5 600,1786.25 592.5,1790 586.25,1785"/>
<polygon points="620,1800 627.5,1795 636.25,1798.75 637.5,1807.5 642.5,1815 635,1818.75 625,1815 621.25,1808.75"/>
<polygon points="625,1802.5 631.25,1801.25 633.75,1806.25 628.75,1810 625,1807.5"/>
<polygon points="441.25,1815 446.25,1812.5 451.25,1816.25 448.75,1821.25 443,1820.5"/>
<polygon points="368.75,1736.25 372.5,1734.5 374.5,1738.75 370.5,1740.5"/>
<polygon points="665,1723.75 672.5,1721.25 685,1727.5 686.25,1731.25 677.5,1733.75 670,1730"/>
<polygon points="695,1762.5 701.25,1756.25 708.75,1755 706.25,1761.25 700,1767.5 696.25,1767.5"/>
<polygon points="406.25,1915 415,1912.5 430,1913.75 445,1912.5 450,1916.25 442.5,1921.25 440,1927.5 430,1928.75 422.5,1925 412.5,1923.75"/>
<polygon points="503.75,1922.5 506.25,1915 512.5,1915 511.25,1925 507.5,1928.75"/>
<polygon points="525,1912.5 537.5,1912.5 540,1917.5 535,1921.25"/>
<polygon points="343.75,1926.25 348.75,1923.75 355,1931.25 351.25,1935 346.25,1931.25"/>
</g>
<polygon points="718.75,1437.5 720,1440 731.25,1448.75 742.5,1456.88 753.75,1466.25 762.5,1473.75 767.5,1480 767.5,1485 773.75,1491.25 775,1500 781.25,1499.38 787.5,1504.38 793.12,1508.12 796.88,1505 796.88,1498.75 801.25,1492.5 806.25,1491.25 811.25,1495 813.12,1500 811.25,1506.25 813.75,1511.25 811.25,1515 818.75,1520 825,1522.5 831.25,1517.5 836.25,1520 840,1521.25 836.25,1528.75 834.38,1536.25 837.5,1540 850.62,1539.38 846.25,1543.75 841.25,1546.88 838.12,1548.12 838.75,1550.62 848.12,1549.38 847.5,1557.5 850,1562.5 849.38,1567.5 853.75,1575 855,1585 860,1590 865.62,1595 873.75,1591.88 878.75,1587.5 880,1582.5 885,1580.62 891.88,1583.75 888.75,1590 890,1601.25 887.5,1608.75 893.75,1616.25 900,1623.75 903.75,1620 906.25,1626.25 912.5,1635 920,1641.25 907.5,1631.25 916.25,1640.62 925,1646.25 935,1653.12 942.5,1660 950,1666.25 960,1668.75 970,1669.38 980,1668.12 990,1671.25 998.75,1678.75 1006.25,1685 1012.5,1692.5 1021.25,1693.12 1027.5,1697.5 1032.5,1705 1037.5,1715 1043.75,1722.5 1048.75,1728.75 1057.5,1732.5 1058.12,1737.5 1052.5,1742.5 1051.88,1746.25 1058.75,1748.12 1066.25,1746.25 1072.5,1745 1077.5,1748.75 1077.5,1755 1081.25,1761.25 1078.75,1768.75 1083.75,1773.75 1092.5,1777.5 1080,1781.25 1073.75,1782.5 1078.75,1786.25 1087.5,1788.75 1095,1790 1101.25,1791.88 1090,1792.5 1085,1795 1087.5,1798.12 1095,1800 1100,1805 1106.25,1808.75 1105,1813.75 1102.5,1816.25 1110,1822.5 1116.25,1821.25 1120,1827.5 1122.5,1833.75 1125,1841.25 1131.25,1843.12 1137.5,1846.25 1141.25,1850.62 1133.75,1849.38 1127.5,1848.75 1125.62,1851.88 1130,1858.75 1133.75,1865 1137.5,1871.25 1140,1875 1141.25,1868.75 1146.25,1866.25 1152.5,1866.88 1158.75,1869.38 1162.5,1871.88 1158.75,1880 1166.25,1878.12 1172.5,1881.25 1176.25,1886.25 1175,1893.75 1178.75,1900 1185,1906.25 1190,1912.5 1195,1918.75 1197.5,1925 1198.75,1932.5 1201.25,1938.75 1202.75,1943.75 1300,1960 1300,1420" fill="#2763a8"/>
<polygon points="731.88,1437.5 733.75,1440 742.5,1447.5 752.5,1458.75 760,1466.25 767.5,1472.5 770,1478.75 780,1485 782.5,1491.25 788.75,1495.62 791.25,1485 792.5,1480 798.75,1475.62 803.75,1475 808.75,1478.12 821.25,1477.5 823.75,1486.25 821.25,1497.5 820,1503.75 818.75,1508.75 825,1508.75 831.25,1505.62 838.75,1505 843.75,1502.5 847.5,1503.75 851.88,1502.5 859.38,1507.5 859.38,1515 853.75,1521.25 848.12,1528.75 851.88,1532.5 856.88,1533.12 861.25,1530.62 870.62,1528.12 867.5,1536.25 868.75,1543.75 862.5,1550 861.25,1560 863.75,1563.75 868.12,1568.75 868.12,1572.5 873.75,1578.75 880,1578.75 885,1573.75 891.25,1572.5 896.25,1573.12 901.25,1571.88 901.88,1580 898.75,1587.5 900,1592.5 905,1596.25 911.25,1595.62 917.5,1600 923.75,1601.25 921.25,1608.75 915,1613.75 907.5,1616.25 906.88,1623.75 910,1630 915,1637.5 909.38,1629.38 916.25,1638.75 927.5,1644.38 937.5,1650 943.75,1656.25 952.5,1662.5 962.5,1665 973.75,1665.62 977.5,1663.12 987.5,1665.62 995,1670.62 1002.5,1676.25 1010,1681.25 1015,1685 1023.75,1686.25 1030,1691.25 1035,1698.75 1040,1707.5 1045,1718.75 1051.25,1726.25 1057.5,1725.62 1063.75,1726.25 1068.75,1732.5 1075,1738.75 1082.5,1743.12 1085,1748.75 1083.75,1753.75 1090,1760 1096.25,1766.25 1100,1772.5 1107.5,1778.75 1115,1782.5 1120,1786.25 1123.75,1790 1116.25,1793.75 1115,1796.25 1120,1802.5 1125,1808.75 1130,1813.75 1131.25,1820 1136.25,1825 1143.75,1831.25 1148.75,1837.5 1153.75,1840 1155,1836.25 1158.75,1841.25 1165,1846.25 1166.25,1851.25 1172.5,1856.25 1180,1861.25 1185,1867.5 1188.75,1873.75 1187.5,1878.75 1190,1887.5 1186.25,1888.12 1183.75,1890 1183.75,1895 1187.5,1900 1193.75,1906.25 1200,1913.75 1205,1920 1203.75,1926.25 1210,1932.5 1215,1936.25 1218.12,1943.75 1300,1960 1300,1420" fill="#4a90c5"/>
<polygon points="945.62,1436.88 946.56,1439.69 951.25,1453.75 948.44,1463.12 941.88,1468.75 930.62,1474.38 923.12,1483.75 913.75,1480 915.62,1487.5 898.75,1498.75 887.5,1511.88 883.75,1517.5 886.25,1520 890,1530 892.5,1538.75 900,1543.12 906.25,1548.12 916.25,1556.25 925,1555 931.25,1551.25 940,1556.25 950,1553.75 962.5,1549.38 975,1545 987.5,1541.88 1000,1539.38 1011.25,1538.12 1024.38,1534 1033.75,1531.56 1042.19,1529.69 1044.06,1536.25 1039.38,1541.88 1033.75,1549.38 1026.25,1553.12 1018.75,1556.88 1013.12,1562.5 1007.5,1568.12 1000,1570 987.5,1573.75 975,1577.5 962.5,1583.75 955,1591.25 950,1597.5 942.5,1607.5 933.75,1618.75 922.5,1623.75 925,1630 922.5,1635 924.38,1626.25 922.5,1633.75 930,1637.5 933.75,1642.5 940,1646.25 943.75,1652.5 948.75,1656.25 955,1657.5 961.25,1660 965,1657.5 970,1660 976.25,1656.88 982.5,1660 992.5,1663.12 997.5,1667.5 1006.25,1670 1013.75,1672.5 1012.5,1676.25 1020,1677.5 1025,1681.25 1032.5,1681.25 1038.75,1686.25 1036.25,1693.75 1040,1700 1045,1707.5 1050,1712.5 1056.25,1716.25 1051.25,1721.25 1058.75,1718.75 1063.75,1717.5 1067.5,1723.75 1068.75,1730 1076.25,1736.25 1083.75,1741.25 1088.75,1746.25 1088.12,1752.5 1095,1760 1100,1768.75 1107.5,1775 1117.5,1781.25 1126.25,1783.75 1130,1788.12 1130,1791.25 1125,1795 1126.25,1801.25 1131.25,1807.5 1133.75,1815 1140,1821.25 1146.25,1827.5 1152.5,1832.5 1160,1836.25 1165,1840 1171.25,1851.25 1180,1857.5 1185,1862.5 1186.25,1868.75 1191.25,1873.75 1192.5,1880 1190,1883.75 1195,1888.75 1200,1891.25 1198.75,1896.25 1203.75,1900 1200,1902.5 1206.25,1908.75 1210,1915 1216.25,1921.25 1221.25,1926.25 1222.5,1931.25 1227.5,1936.25 1229.38,1943.75 1300,1960 1300,1420" fill="#65a6d2"/>
<polygon points="735.62,1438.75 736.25,1440 745,1446.25 753.75,1456.25 758.75,1463.75 770,1464.38 775,1462.5 778.12,1453.75 777.5,1446.25 773.12,1440 772.5,1438.75" fill="#65a6d2"/>
<polygon points="849.06,1436.88 848.12,1439.69 844.38,1450 848.12,1462.19 855.62,1470.62 868.75,1475.31 878.12,1473.44 887.5,1466.88 895,1465 894.06,1453.75 902.5,1455.62 913.75,1446.25 910.94,1442.5 915.62,1439.69 915.62,1436.88" fill="#65a6d2"/>
<polygon points="740.62,1438.75 741.25,1440.62 752.5,1452.5 758.75,1459.38 763.12,1456.25 765,1450 762.5,1442.5 763.75,1440 763.75,1438.75" fill="#74b0d8"/>
<polygon points="1000,1446.25 988.75,1448.12 985,1457.5 981.25,1476.25 970,1481.88 951.25,1483.75 941.88,1480 928.75,1491.25 925,1502.5 921.25,1511.88 925,1520 931.25,1527.5 943.75,1536.25 956.25,1540 968.75,1538.75 981.25,1535.62 1000,1531.25 1013.12,1526.88 1022.5,1519.38 1028.12,1510 1030,1498.75 1029.06,1485.62 1024.38,1474.38 1015,1463.12 1005.62,1451.88 1000,1446.25" fill="#74b0d8"/>
<polygon points="1056.25,1558.75 1063.75,1555 1078.75,1553.12 1090,1556.88 1097.5,1568.12 1103.12,1575.62 1097.5,1583.12 1093.75,1588.75 1082.5,1585 1071.25,1581.25 1063.75,1571.88 1055.31,1564.38" fill="#74b0d8"/>
<polygon points="1036.56,1436.88 1037.5,1439.69 1040.31,1451.88 1039.38,1463.12 1046.88,1474.38 1056.25,1481.88 1063.75,1495 1067.5,1508.12 1071.25,1521.25 1078.75,1532.5 1088.12,1538.12 1093.75,1547.5 1101.25,1555 1110.62,1558.75 1117.19,1556.88 1116.25,1570 1112.5,1575.62 1120,1588.75 1123.75,1598.12 1105,1576.25 1113.75,1577.5 1116.25,1586.25 1122.5,1593.75 1123.75,1601.25 1121.25,1607.5 1128.75,1612.5 1130,1616.25 1122.5,1620 1113.75,1617.5 1105,1613.75 1096.25,1612.5 1087.5,1613.75 1080,1612.5 1065.62,1613.12 1054.38,1605.62 1039.38,1604.69 1028.12,1600 1020.62,1590.62 1011.25,1585 1000,1587.44 993.75,1595 987.5,1605 980,1616.25 967.5,1625 956.25,1630 955,1635 961.25,1645 968.75,1650 975,1646.25 982.5,1650 990,1655 981.25,1647.5 987.5,1651.25 995,1654.38 1006.25,1655.62 1016.25,1656.88 1028.75,1657.5 1036.25,1660 1043.75,1666.25 1046.25,1672.5 1053.75,1682.5 1062.5,1692.5 1066.25,1701.25 1075,1707.5 1081.25,1715 1086.25,1722.5 1090,1741.25 1091.25,1748.75 1097.5,1757.5 1102.5,1767.5 1112.5,1775 1122.5,1780 1132.5,1785 1138.75,1792.5 1141.25,1800 1145,1807.5 1150,1815 1157.5,1822.5 1165,1830 1177.5,1833.12 1188.75,1833.75 1197.5,1836.25 1202.5,1842.5 1207.5,1851.25 1217.5,1863.75 1226.25,1872.5 1230,1881.25 1237.5,1890 1245,1900 1253.75,1907.5 1262.5,1913.75 1272.5,1920 1300,1925 1300,1420" fill="#74b0d8"/>
<polygon points="1168.12,1868.12 1173.75,1866.25 1175.62,1870 1175,1875 1171.88,1877.5 1170,1873.75" fill="#214279"/>
<polygon points="1178.12,1873.75 1181.25,1871.25 1185,1875 1186.88,1882.5 1185,1885.62 1182.5,1881.25 1179.38,1877.5" fill="#214279"/>
<polygon points="1191.88,1891.25 1193.75,1891.25 1193.75,1895.62 1192.25,1895.62" fill="#214279"/>
<polygon points="1143.12,1853.12 1151.88,1853.12 1151.88,1860 1147.5,1855.62" fill="#214279"/>
<polygon points="1194.38,1898.75 1198.75,1898.12 1199.38,1901.88 1197.5,1905 1195,1902.5" fill="#2763a8"/>
<polygon points="1199.38,1905.62 1201.88,1905 1201.25,1908.12" fill="#2763a8"/>
<polygon points="1203.12,1909.38 1205,1909.38 1204.75,1914.38 1203.5,1914.38" fill="#2763a8"/>
<polygon points="1106.88,1786.25 1109.38,1784 1111.88,1786.25 1109.38,1788.75" fill="#214279"/>
<polygon points="1031.88,1749.38 1034.38,1748.12 1038.75,1752.5 1039.38,1756.88 1036.88,1756.88 1035,1752.5" fill="#2763a8"/>
<polygon points="1105.62,1797.5 1110,1796.5 1109.38,1798.75 1106.25,1799.38" fill="#65a6d2"/>
<polygon points="930.62,1556.25 934.38,1552.75 939.38,1557.5 935.62,1561 931.88,1559.75" fill="#2763a8"/>
<polygon points="932.5,1556.88 934.75,1555 936.88,1557.5 935,1559.38" fill="#214279"/>
<polygon points="860,1541.25 863.12,1540.62 861.88,1543.75" fill="#65a6d2"/>
<polygon points="895.62,1609.38 899.38,1605.62 900,1607.5 896.88,1611.88" fill="#65a6d2"/>
<polygon points="901.88,1612.5 905,1611.88 904.38,1615" fill="#214279"/>
<polygon points="1105.94,1457.5 1112.5,1444.38 1120,1459.38 1114.38,1468.75 1112.5,1483.75 1113.44,1500.62 1109.69,1502.5 1105,1481.88 1101.25,1466.88" fill="#65a6d2"/>
<polygon points="1107.81,1470.62 1110.62,1466.88 1112.5,1476.25 1112.5,1498.75 1109.69,1500.62 1107.81,1487.5" fill="#4a90c5"/>
<polygon points="1115.31,1523.12 1125.62,1524.06 1121.88,1532.5 1123.75,1547.5 1117.19,1546.56 1116.25,1532.5" fill="#65a6d2"/>
<polygon points="1122.81,1617.81 1131.25,1615 1147.19,1626.25 1142.5,1635.62 1129.38,1628.12" fill="#65a6d2"/>
<polygon points="1125.62,1618.75 1131.25,1616.88 1144.38,1627.19 1140.62,1632.81 1131.25,1626.25" fill="#4a90c5"/>
<polygon points="1167.5,1648.75 1171.25,1645 1178.75,1644.38 1190,1647.5 1192.5,1651.25 1190,1658.75 1181.25,1666.25 1176.25,1663.75 1172.5,1658.75 1168.12,1655.62" fill="#65a6d2"/>
<polygon points="1168.75,1650 1175,1649.38 1177.5,1653.75 1173.75,1657.5 1170,1656.25" fill="#4a90c5"/>
<polygon points="1153.12,1647.5 1155.62,1647.5 1156.88,1650 1154.38,1651.88 1152.5,1650" fill="#4a90c5"/>
<polygon points="1160,1650 1163.75,1648.75 1165,1653.75 1161.25,1655" fill="#4a90c5"/>
<polygon points="1195,1663.75 1197.5,1661.88 1205,1661.88 1208.75,1667.5 1207.5,1668.75 1196.25,1668.75" fill="#65a6d2"/>
<polygon points="1221.25,1656.25 1227.5,1651.88 1232.5,1657.5 1223.75,1663.75 1221.88,1668.12" fill="#65a6d2"/>
<polygon points="1091.25,1718.75 1095,1715.62 1102.5,1715 1098.75,1718.75 1093.75,1722.5" fill="#65a6d2"/>
<polygon points="1239.38,1665 1242.5,1663.12 1243.75,1675 1241.88,1677.5 1239.38,1673.75" fill="#65a6d2"/>
<polygon points="1091.88,1718.75 1095,1715.62 1102.5,1715 1098.75,1719.38 1093.75,1721.88" fill="#65a6d2"/>
<polygon points="1136.25,1437.5 1136.25,1440 1130,1446.25 1125,1451.25 1121.25,1455 1117.5,1458.75 1116.25,1463.75 1112.5,1467.5 1121.25,1482.5 1112.5,1497.5 1117.5,1498.75 1120,1502.5 1123.75,1500 1132.5,1500 1136.25,1503.75 1135,1510 1130,1510 1126.25,1515 1127.5,1517.5 1140,1517.5 1147.5,1510 1147.5,1506.25 1151.25,1500 1151.25,1497.5 1147.5,1495 1142.5,1490 1138.75,1489.38 1160,1488.75 1162.5,1485 1162.5,1475 1170,1472.5 1170.62,1463.75 1173.75,1461.25 1173.75,1468.75 1171.25,1473.75 1171.25,1478.75 1166.25,1480 1163.12,1483.75 1163.75,1488.75 1167.5,1492.5 1172.5,1490 1176.25,1492.5 1186.25,1493.12 1186.25,1497.5 1177.5,1498.12 1170,1503.75 1160,1505 1155,1508.75 1155,1526.25 1151.88,1530 1157.5,1535 1177.5,1536.25 1181.25,1540 1186.25,1540 1186.25,1544.38 1177.5,1545 1172.5,1550 1166.25,1547.5 1160,1553.12 1162.5,1557.5 1171.25,1555 1175,1560 1178.75,1560 1183.75,1556.25 1190,1555 1196.25,1550 1196.25,1547.5 1201.25,1547.5 1205,1551.25 1207.5,1551.25 1202.5,1553.12 1197.5,1558.75 1187.5,1558.75 1180,1566.25 1170,1566.25 1167.5,1562.5 1160,1562.5 1155,1566.25 1148.75,1570 1143.75,1566.25 1135,1566.25 1131.25,1570 1126.25,1575 1125,1580 1125,1583.75 1275,1583.75 1275,1437.5" fill="#ffffff"/>
<polygon points="1082.5,1505 1087.5,1502.5 1101.25,1502.5 1110,1510 1116.25,1509.38 1122.5,1515 1120,1517.5 1112.5,1515.62 1105,1521.25 1111.25,1526.25 1111.25,1538.75 1106.25,1537.5 1105.62,1532.5 1101.25,1528.75 1095,1528.75 1087.5,1523.12 1086.88,1511.25 1082.5,1506.25" fill="#ffffff"/>
<polygon points="1093.75,1490 1100,1488.75 1101.25,1495 1097.5,1500 1093.75,1495" fill="#ffffff"/>
<polygon points="1106.25,1541.25 1110,1541.25 1110,1545 1106.25,1544.38" fill="#ffffff"/>
<polygon points="1127.5,1548.75 1132.5,1546.25 1138.75,1547.5 1140,1541.25 1150,1533.75 1155,1538.75 1151.25,1542.5 1156.88,1547.5 1153.75,1550 1149.38,1553.75 1128.75,1553.12 1125.62,1550.62" fill="#ffffff"/>
<polygon points="1160,1542.5 1167.5,1537.5 1176.25,1540 1171.25,1546.25 1163.75,1546.25" fill="#ffffff"/>
<polygon points="1123.75,1560 1127.5,1558.75 1131.25,1562.5 1127.5,1565" fill="#ffffff"/>
<polygon points="1152.5,1495 1157.5,1497.5 1155,1500 1151.88,1497.5" fill="#ffffff"/>
<polygon points="1082.5,1437.81 1105,1437.81 1099.38,1448.12 1088.12,1451.88 1080.62,1457.5 1076.88,1455.62 1084.38,1448.12 1076.88,1446.25" fill="#ffffff"/>
<polygon points="1040.31,1450 1043.12,1448.12 1045.94,1456.56 1042.19,1459.38 1039.75,1455.62" fill="#ffffff"/>
<polygon points="1062.81,1452.81 1065.62,1451.88 1069.38,1455.62 1066.56,1457.5" fill="#ffffff"/>
<polygon points="1125,1566.25 1125,1580 1135,1587.5 1136.25,1595 1142.5,1597.5 1147.5,1596.88 1150,1593.75 1142.5,1592.5 1143.12,1587.5 1148.12,1587.5 1151.25,1590 1160,1582.5 1166.25,1581.25 1166.25,1576.25 1175,1576.25 1180,1580 1185.62,1576.25 1185.62,1580.62 1170,1581.25 1166.88,1585 1167.5,1588.12 1172.5,1591.25 1177.5,1587.5 1182.5,1590.62 1205,1591.25 1210,1594.38 1222.5,1594.38 1226.88,1596.88 1232.5,1594.38 1240,1593.75 1248.75,1585 1249.38,1580 1253.75,1580 1253.75,1588.75 1246.25,1595 1238.75,1602.5 1216.25,1603.12 1211.25,1605.62 1185,1605.62 1178.75,1610 1172.5,1604.38 1165,1604.38 1158.75,1600 1155,1603.12 1155,1612.5 1160,1615.62 1166.25,1620 1167.5,1623.75 1171.25,1626.88 1186.25,1626.88 1195,1635 1205,1640 1210,1641.88 1215,1641.88 1222.5,1635 1217.5,1631.25 1215,1635 1211.25,1631.25 1200,1631.25 1192.5,1627.5 1191.88,1623.75 1196.88,1620 1203.75,1626.88 1212.5,1627.5 1216.88,1631.25 1222.5,1631.25 1223.12,1622.5 1238.75,1613.12 1238.75,1619.38 1242.5,1622.5 1246.25,1620 1253.75,1624.38 1247.5,1625 1242.5,1631.25 1248.75,1635 1257.5,1631.25 1265,1626.25 1265,1622.5 1270,1620 1275,1620 1275,1566.25" fill="#ffffff"/>
<polygon points="1160,1595 1162.5,1592.5 1192.5,1592.5 1200,1595 1205,1595 1207.5,1598.75 1203.75,1601.88 1197.5,1601.88 1192.5,1597.5 1165,1598.12 1160,1595.62" fill="#ffffff"/>
<polygon points="1265,1616.88 1271.25,1612.5 1271.25,1620 1267.5,1620" fill="#ffffff"/>
<polygon points="1266.88,1635 1271.25,1631.88 1271.25,1638.12" fill="#ffffff"/>
<polygon points="1262.5,1671.25 1271.25,1661.25 1271.25,1668.75 1265,1673.75" fill="#ffffff"/>
<polygon points="1262.5,1693.75 1266.25,1691.25 1271.25,1691.88 1271.25,1696.25 1265,1696.25" fill="#ffffff"/>
<polygon points="1136.88,1602.5 1140,1600 1145.62,1605.62 1143.12,1607.5" fill="#ffffff"/>
<polygon points="1148.75,1616.88 1151.25,1615 1153.75,1616.88 1151.25,1618.75" fill="#ffffff"/>
<polygon points="1096.25,1628.75 1100.62,1628.12 1098.75,1632.5 1096.25,1631.88" fill="#ffffff"/>
<polygon points="1110.62,1627.5 1113.75,1626.25 1115,1628.75 1112.5,1630" fill="#ffffff"/>
<polygon points="1121.88,1635 1126.25,1631.88 1131.25,1631.88 1133.75,1635 1130,1638.12 1123.75,1638.12" fill="#ffffff"/>
<polygon points="1151.25,1635 1157.5,1636.25 1158.75,1641.25 1155,1641.25" fill="#ffffff"/>
<polygon points="1200,1655 1203.12,1653.75 1204.38,1656.25 1201.25,1657.5" fill="#ffffff"/>
<polygon points="1213.75,1645 1216.25,1643.75 1218.12,1645.62" fill="#ffffff"/>
<polygon points="1228.75,1645 1231.25,1643.75 1233.12,1646.25 1230.62,1648.12" fill="#ffffff"/>
<polygon points="1240,1646.25 1243.75,1643.12 1247.5,1645 1248.75,1647.5 1245,1648.75 1241.25,1648.12" fill="#ffffff"/>
<polygon points="1251.25,1646.25 1253.75,1644.38 1256.25,1646.25 1253.75,1648.75" fill="#ffffff"/>
<polygon points="1220,1651.25 1223.12,1651.25 1223.12,1653.12 1220,1653.12" fill="#ffffff"/>
<polygon points="1238.75,1655 1241.25,1653.75 1245,1657.5 1243.75,1660.62 1240.62,1658.75" fill="#ffffff"/>
<polygon points="1226.88,1666.25 1230,1665 1233.12,1667.5 1230,1670 1226.88,1669.38" fill="#ffffff"/>
<polygon points="1198.12,1675 1202.5,1671.88 1206.88,1675 1203.12,1678.75" fill="#ffffff"/>
<polygon points="1213.12,1675 1216.25,1673.12 1223.75,1673.12 1225.62,1675.62 1222.5,1678.12 1215,1678.12" fill="#ffffff"/>
<polygon points="1213.12,1682.5 1215.62,1680 1218.12,1682.5 1215.62,1685" fill="#ffffff"/>
<polygon points="1225,1682.5 1227.5,1680.62 1230,1682.5 1227.5,1685" fill="#ffffff"/>
<polygon points="1175,1668.12 1178.12,1668.12 1178.12,1670 1175.62,1670" fill="#ffffff"/>
<polygon points="1223.75,1816.88 1227.5,1813.12 1245,1813.12 1248.75,1817.5 1249.38,1821.25 1253.12,1824.38 1253.12,1835 1256.88,1845 1256.88,1852.5 1253.75,1856.25 1241.25,1856.88 1222.5,1838.12 1218.12,1838.12 1226.25,1830 1230,1830 1235,1826.88 1235,1823.75 1228.12,1823.12 1223.75,1819.38" fill="#ffffff"/>
<polygon points="1266.25,1846.25 1271.25,1841.88 1271.25,1850.62" fill="#ffffff"/>
<polygon points="1102.5,1733.75 1106.88,1730.62 1111.25,1733.75 1108.12,1736.88 1105,1736.88" fill="#ffffff"/>
<polygon points="1171.88,1790 1173.75,1788.12 1176.25,1790 1173.75,1791.88" fill="#ffffff"/>
<polygon points="1178.75,1786.25 1181.25,1783.75 1183.75,1786.25 1181.25,1788.75" fill="#ffffff"/>
<polygon points="1208.75,1816.25 1211.88,1813.75 1215,1816.88 1211.25,1818.12" fill="#ffffff"/>
<polygon points="1219.38,1826.25 1221.88,1827.5 1220,1828.75" fill="#ffffff"/>
<polygon points="1271.25,1841.25 1265.62,1846.25 1271.25,1851.25" fill="#ffffff"/>
<polygon points="1271.25,1875 1265.62,1876.25 1263.12,1880 1266.25,1883.75 1266.25,1891.25 1271.25,1895.62" fill="#ffffff"/>
<polygon points="1219.38,1826.25 1221.88,1827.5 1220,1829.38" fill="#ffffff"/>
<polygon points="1056.25,1661.25 1056.88,1652.5 1060,1650 1071.25,1649.38 1077.5,1643.75 1086.25,1642.5 1089.38,1638.12 1102.5,1638.12 1106.25,1636.25 1111.25,1636.88 1117.5,1640.62 1122.5,1641.25 1131.25,1646.88 1140,1646.88 1145,1643.75 1143.12,1649.38 1150,1651.88 1157.5,1656.25 1158.12,1663.75 1162.5,1661.88 1166.25,1666.25 1175,1670.62 1182.5,1675 1188.75,1677.5 1198.75,1685 1212.5,1687.5 1226.25,1693.75 1240,1693.75 1242.5,1694.38 1247.5,1697.5 1255,1700 1261.25,1704.38 1270,1705 1275,1705 1275,1832.5 1270,1832.5 1265,1838.12 1261.25,1837.5 1257.5,1833.12 1257.5,1826.25 1253.75,1822.5 1253.75,1805 1250,1805 1247.5,1808.12 1242.5,1808.12 1238.75,1805 1238.75,1797.5 1235.62,1794.38 1230.62,1794.38 1230,1796.25 1233.75,1800 1234.38,1805 1231.88,1808.12 1227.5,1808.12 1223.75,1803.75 1223.75,1790 1219.38,1790 1219.38,1803.75 1215,1808.12 1211.88,1805 1211.88,1800.62 1208.12,1796.88 1208.12,1805 1210,1808.75 1207.5,1811.88 1200,1811.88 1193.12,1804.38 1193.12,1800.62 1190,1797.5 1190,1790 1195,1785.62 1203.12,1785 1205,1782.25 1196.88,1781.88 1194.38,1779.38 1196.88,1776.25 1200.62,1775.62 1200.62,1771.88 1205,1768.75 1205,1760 1200.62,1760 1200,1763.75 1193.12,1770 1185,1763.75 1178.75,1757.5 1177.5,1753.12 1177.5,1763.75 1180.62,1768.12 1180.62,1775 1176.88,1778.75 1173.75,1779.38 1170.62,1781.88 1160,1771.25 1166.88,1764.38 1163.12,1760.62 1162.5,1756.25 1158.75,1756.25 1151.25,1763.75 1147.5,1763.75 1143.75,1760 1143.75,1753.12 1138.75,1753.12 1135,1755.62 1135,1761.25 1128.12,1768.12 1128.12,1773.75 1125,1771.25 1116.25,1770.62 1110,1764.38 1113.75,1761.25 1118.75,1760.62 1129.38,1750 1131.88,1745.62 1124.38,1744.38 1118.12,1738.12 1121.25,1735 1131.88,1734.38 1128.12,1733.75 1125,1730 1120.62,1730 1117.5,1727.25 1108.12,1727.5 1106.25,1730 1103.12,1726.88 1105.62,1723.75 1106.25,1720 1110,1716.25 1109.38,1717.5 1109.38,1712.5 1112.5,1709.38 1121.25,1708.75 1127.5,1705 1132.5,1705.62 1136.25,1703.12 1140,1705 1146.25,1705 1153.12,1710 1153.75,1715 1157.5,1717.5 1161.88,1723.75 1162.5,1727.5 1166.88,1727.5 1166.88,1725 1163.75,1723.75 1162.5,1718.75 1158.75,1712.5 1156.25,1706.25 1152.5,1701.25 1151.88,1697.5 1155,1695 1155,1690 1158.75,1686.88 1166.88,1686.25 1166.88,1681.88 1153.75,1681.88 1150.62,1684.38 1147.5,1681.88 1126.25,1681.88 1121.25,1678.75 1113.75,1678.75 1108.75,1675 1097.5,1675 1102.5,1676.25 1107.5,1679.38 1113.75,1680 1117.5,1682.5 1121.25,1683.12 1125,1683.75 1127.5,1686.88 1138.75,1687.5 1141.88,1689.38 1140,1691.25 1127.5,1698.75 1123.75,1700 1120,1697.5 1115,1697.5 1110,1700 1105,1703.75 1101.25,1703.75 1098.12,1698.75 1097.5,1693.12 1096.88,1698.12 1090,1703.75 1081.25,1697.5 1075,1693.75 1075,1686.25 1071.25,1682.5 1065,1678.75 1071.25,1672.5 1071.25,1668.75 1065.62,1668.12 1063.12,1668.12" fill="#ffffff"/>
</g>
<line x1="414" y1="1944" x2="414" y2="1954" stroke="#000" stroke-width="2" shape-rendering="crispEdges"/>
<text xml:space="preserve" style="white-space:pre" x="414.8" y="1986.44" font-size="27.78" text-anchor="middle" fill="#000">−134</text>
<line x1="528" y1="1944" x2="528" y2="1954" stroke="#000" stroke-width="2" shape-rendering="crispEdges"/>
<text xml:space="preserve" style="white-space:pre" x="529.09" y="1986.44" font-size="27.78" text-anchor="middle" fill="#000">−133</text>
<line x1="643" y1="1944" x2="643" y2="1954" stroke="#000" stroke-width="2" shape-rendering="crispEdges"/>
<text xml:space="preserve" style="white-space:pre" x="643.38" y="1986.44" font-size="27.78" text-anchor="middle" fill="#000">−132</text>
<line x1="757" y1="1944" x2="757" y2="1954" stroke="#000" stroke-width="2" shape-rendering="crispEdges"/>
<text xml:space="preserve" style="white-space:pre" x="757.67" y="1986.44" font-size="27.78" text-anchor="middle" fill="#000">−131</text>
<line x1="871" y1="1944" x2="871" y2="1954" stroke="#000" stroke-width="2" shape-rendering="crispEdges"/>
<text xml:space="preserve" style="white-space:pre" x="871.96" y="1986.44" font-size="27.78" text-anchor="middle" fill="#000">−130</text>
<line x1="985" y1="1944" x2="985" y2="1954" stroke="#000" stroke-width="2" shape-rendering="crispEdges"/>
<text xml:space="preserve" style="white-space:pre" x="986.25" y="1986.44" font-size="27.78" text-anchor="middle" fill="#000">−129</text>
<line x1="1100" y1="1944" x2="1100" y2="1954" stroke="#000" stroke-width="2" shape-rendering="crispEdges"/>
<text xml:space="preserve" style="white-space:pre" x="1100.54" y="1986.44" font-size="27.78" text-anchor="middle" fill="#000">−128</text>
<line x1="1214" y1="1944" x2="1214" y2="1954" stroke="#000" stroke-width="2" shape-rendering="crispEdges"/>
<text xml:space="preserve" style="white-space:pre" x="1214.83" y="1986.44" font-size="27.78" text-anchor="middle" fill="#000">−127</text>
<line x1="328" y1="1439" x2="338" y2="1439" stroke="#000" stroke-width="2" shape-rendering="crispEdges"/>
<text xml:space="preserve" style="white-space:pre" x="318" y="1450.3" font-size="27.78" text-anchor="end" fill="#000">52.0</text>
<line x1="328" y1="1526" x2="338" y2="1526" stroke="#000" stroke-width="2" shape-rendering="crispEdges"/>
<text xml:space="preserve" style="white-space:pre" x="318" y="1537.5" font-size="27.78" text-anchor="end" fill="#000">51.5</text>
<line x1="328" y1="1614" x2="338" y2="1614" stroke="#000" stroke-width="2" shape-rendering="crispEdges"/>
<text xml:space="preserve" style="white-space:pre" x="318" y="1624.7" font-size="27.78" text-anchor="end" fill="#000">51.0</text>
<line x1="328" y1="1701" x2="338" y2="1701" stroke="#000" stroke-width="2" shape-rendering="crispEdges"/>
<text xml:space="preserve" style="white-space:pre" x="318" y="1711.9" font-size="27.78" text-anchor="end" fill="#000">50.5</text>
<line x1="328" y1="1788" x2="338" y2="1788" stroke="#000" stroke-width="2" shape-rendering="crispEdges"/>
<text xml:space="preserve" style="white-space:pre" x="318" y="1799.1" font-size="27.78" text-anchor="end" fill="#000">50.0</text>
<line x1="328" y1="1875" x2="338" y2="1875" stroke="#000" stroke-width="2" shape-rendering="crispEdges"/>
<text xml:space="preserve" style="white-space:pre" x="318" y="1886.3" font-size="27.78" text-anchor="end" fill="#000">49.5</text>
<clipPath id="cax"><rect x="338" y="1439" width="933" height="505"/></clipPath>
<g clip-path="url(#cax)">
<polygon points="338,1898 346.5,1912.4 338,1926.8 329.5,1912.4" fill="#ff7f0e"/>
<polygon points="522.75,1784 531.25,1798.4 522.75,1812.8 514.25,1798.4" fill="#ff7f0e"/>
<polygon points="1072.5,1476.85 1081,1491.25 1072.5,1505.65 1064,1491.25" fill="#ff7f0e"/>
<polygon points="1112.5,1468.1 1121,1482.5 1112.5,1496.9 1104,1482.5" fill="#ff7f0e"/>
<g fill="#bf00bf">
<circle cx="947.5" cy="1569.38" r="2.5"/>
<circle cx="952.5" cy="1566.25" r="2.5"/>
<circle cx="956.25" cy="1564.38" r="2.5"/>
<circle cx="959.38" cy="1564.38" r="2.5"/>
<circle cx="964.38" cy="1563.12" r="2.5"/>
<circle cx="970.62" cy="1560" r="2.5"/>
<circle cx="974.38" cy="1556.25" r="2.5"/>
<circle cx="977.5" cy="1553.75" r="2.5"/>
<circle cx="980" cy="1552.5" r="2.5"/>
<circle cx="983.75" cy="1553.12" r="2.5"/>
<circle cx="989.38" cy="1552.25" r="2.5"/>
<circle cx="994.38" cy="1549" r="2.5"/>
<circle cx="997.5" cy="1546.25" r="2.5"/>
<circle cx="1000" cy="1545.25" r="2.5"/>
<circle cx="1001.88" cy="1545.25" r="2.5"/>
<circle cx="1008.12" cy="1543.5" r="2.5"/>
<circle cx="1012.5" cy="1543.75" r="2.5"/>
<circle cx="1015" cy="1541.25" r="2.5"/>
<circle cx="1017.5" cy="1542.5" r="2.5"/>
<circle cx="1020.62" cy="1544.75" r="2.5"/>
<circle cx="1025.62" cy="1543.25" r="2.5"/>
<circle cx="1033.75" cy="1536.5" r="2.5"/>
<circle cx="1041.5" cy="1528" r="2.5"/>
<circle cx="1042" cy="1524.5" r="2.5"/>
<circle cx="1042" cy="1521.5" r="2.5"/>
<circle cx="1039.38" cy="1525" r="2.5"/>
<circle cx="1039.38" cy="1520" r="2.5"/>
<circle cx="1039" cy="1516.25" r="2.5"/>
<circle cx="1041.25" cy="1513.12" r="2.5"/>
<circle cx="1042.5" cy="1510.62" r="2.5"/>
<circle cx="1043.12" cy="1503.75" r="2.5"/>
<circle cx="1043.12" cy="1500" r="2.5"/>
<circle cx="1045.62" cy="1498.75" r="2.5"/>
<circle cx="1048.75" cy="1496.88" r="2.5"/>
<circle cx="1052.5" cy="1494.38" r="2.5"/>
<circle cx="1056.25" cy="1492.5" r="2.5"/>
<circle cx="1060" cy="1491" r="2.5"/>
<circle cx="1063.75" cy="1490" r="2.5"/>
<circle cx="1067.5" cy="1489.5" r="2.5"/>
<circle cx="1071.25" cy="1489.5" r="2.5"/>
<circle cx="1075" cy="1490" r="2.5"/>
<circle cx="1078.75" cy="1491.25" r="2.5"/>
<circle cx="1081.88" cy="1492.12" r="2.5"/>
<circle cx="1084.75" cy="1492.5" r="2.5"/>
<circle cx="1092.12" cy="1489.38" r="2.5"/>
<circle cx="1096.25" cy="1485.62" r="2.5"/>
<circle cx="1099.38" cy="1484" r="2.5"/>
<circle cx="1101.88" cy="1484.38" r="2.5"/>
<circle cx="1103.75" cy="1491.25" r="2.5"/>
<circle cx="1091.25" cy="1499.38" r="2.5"/>
<circle cx="1105.38" cy="1500" r="2.5"/>
</g>
<circle cx="938.5" cy="1574.4" r="9.7" fill="#008000"/>
</g>
<text xml:space="preserve" style="white-space:pre" x="356.7" y="1908.4" font-size="23" text-anchor="start" fill="#ff7f0e" transform="rotate(-60 356.7 1908.4)">P16 -986 km</text>
<text xml:space="preserve" style="white-space:pre" x="539.95" y="1793.75" font-size="23" text-anchor="start" fill="#ff7f0e" transform="rotate(-60 539.95 1793.75)">Turn -419 km</text>
<text xml:space="preserve" style="white-space:pre" x="1090.9" y="1486.6" font-size="23" text-anchor="start" fill="#ff7f0e" transform="rotate(-60 1090.9 1486.6)">QCS01 -25 km</text>
<text xml:space="preserve" style="white-space:pre" x="1130.9" y="1477.65" font-size="23" text-anchor="start" fill="#ff7f0e" transform="rotate(-60 1130.9 1477.65)">Koeye -0 km</text>
<rect x="373.6" y="1828.5" width="457" height="83.1" fill="#fff" stroke="#000" stroke-width="2.78"/>
<g font-family='"DejaVu Sans Mono", "Liberation Mono", monospace'>
<text xml:space="preserve" style="white-space:pre" x="385.4" y="1861.2" font-size="27.78" text-anchor="start" fill="#000">Distance travelled: 125 km</text>
<text xml:space="preserve" style="white-space:pre" x="385.4" y="1894" font-size="27.78" text-anchor="start" fill="#000">Distance to go: 987 km</text>
</g>
<rect x="338" y="1439" width="933" height="505" fill="none" stroke="#000" stroke-width="2" shape-rendering="crispEdges"/>
</svg>
</body></html>
